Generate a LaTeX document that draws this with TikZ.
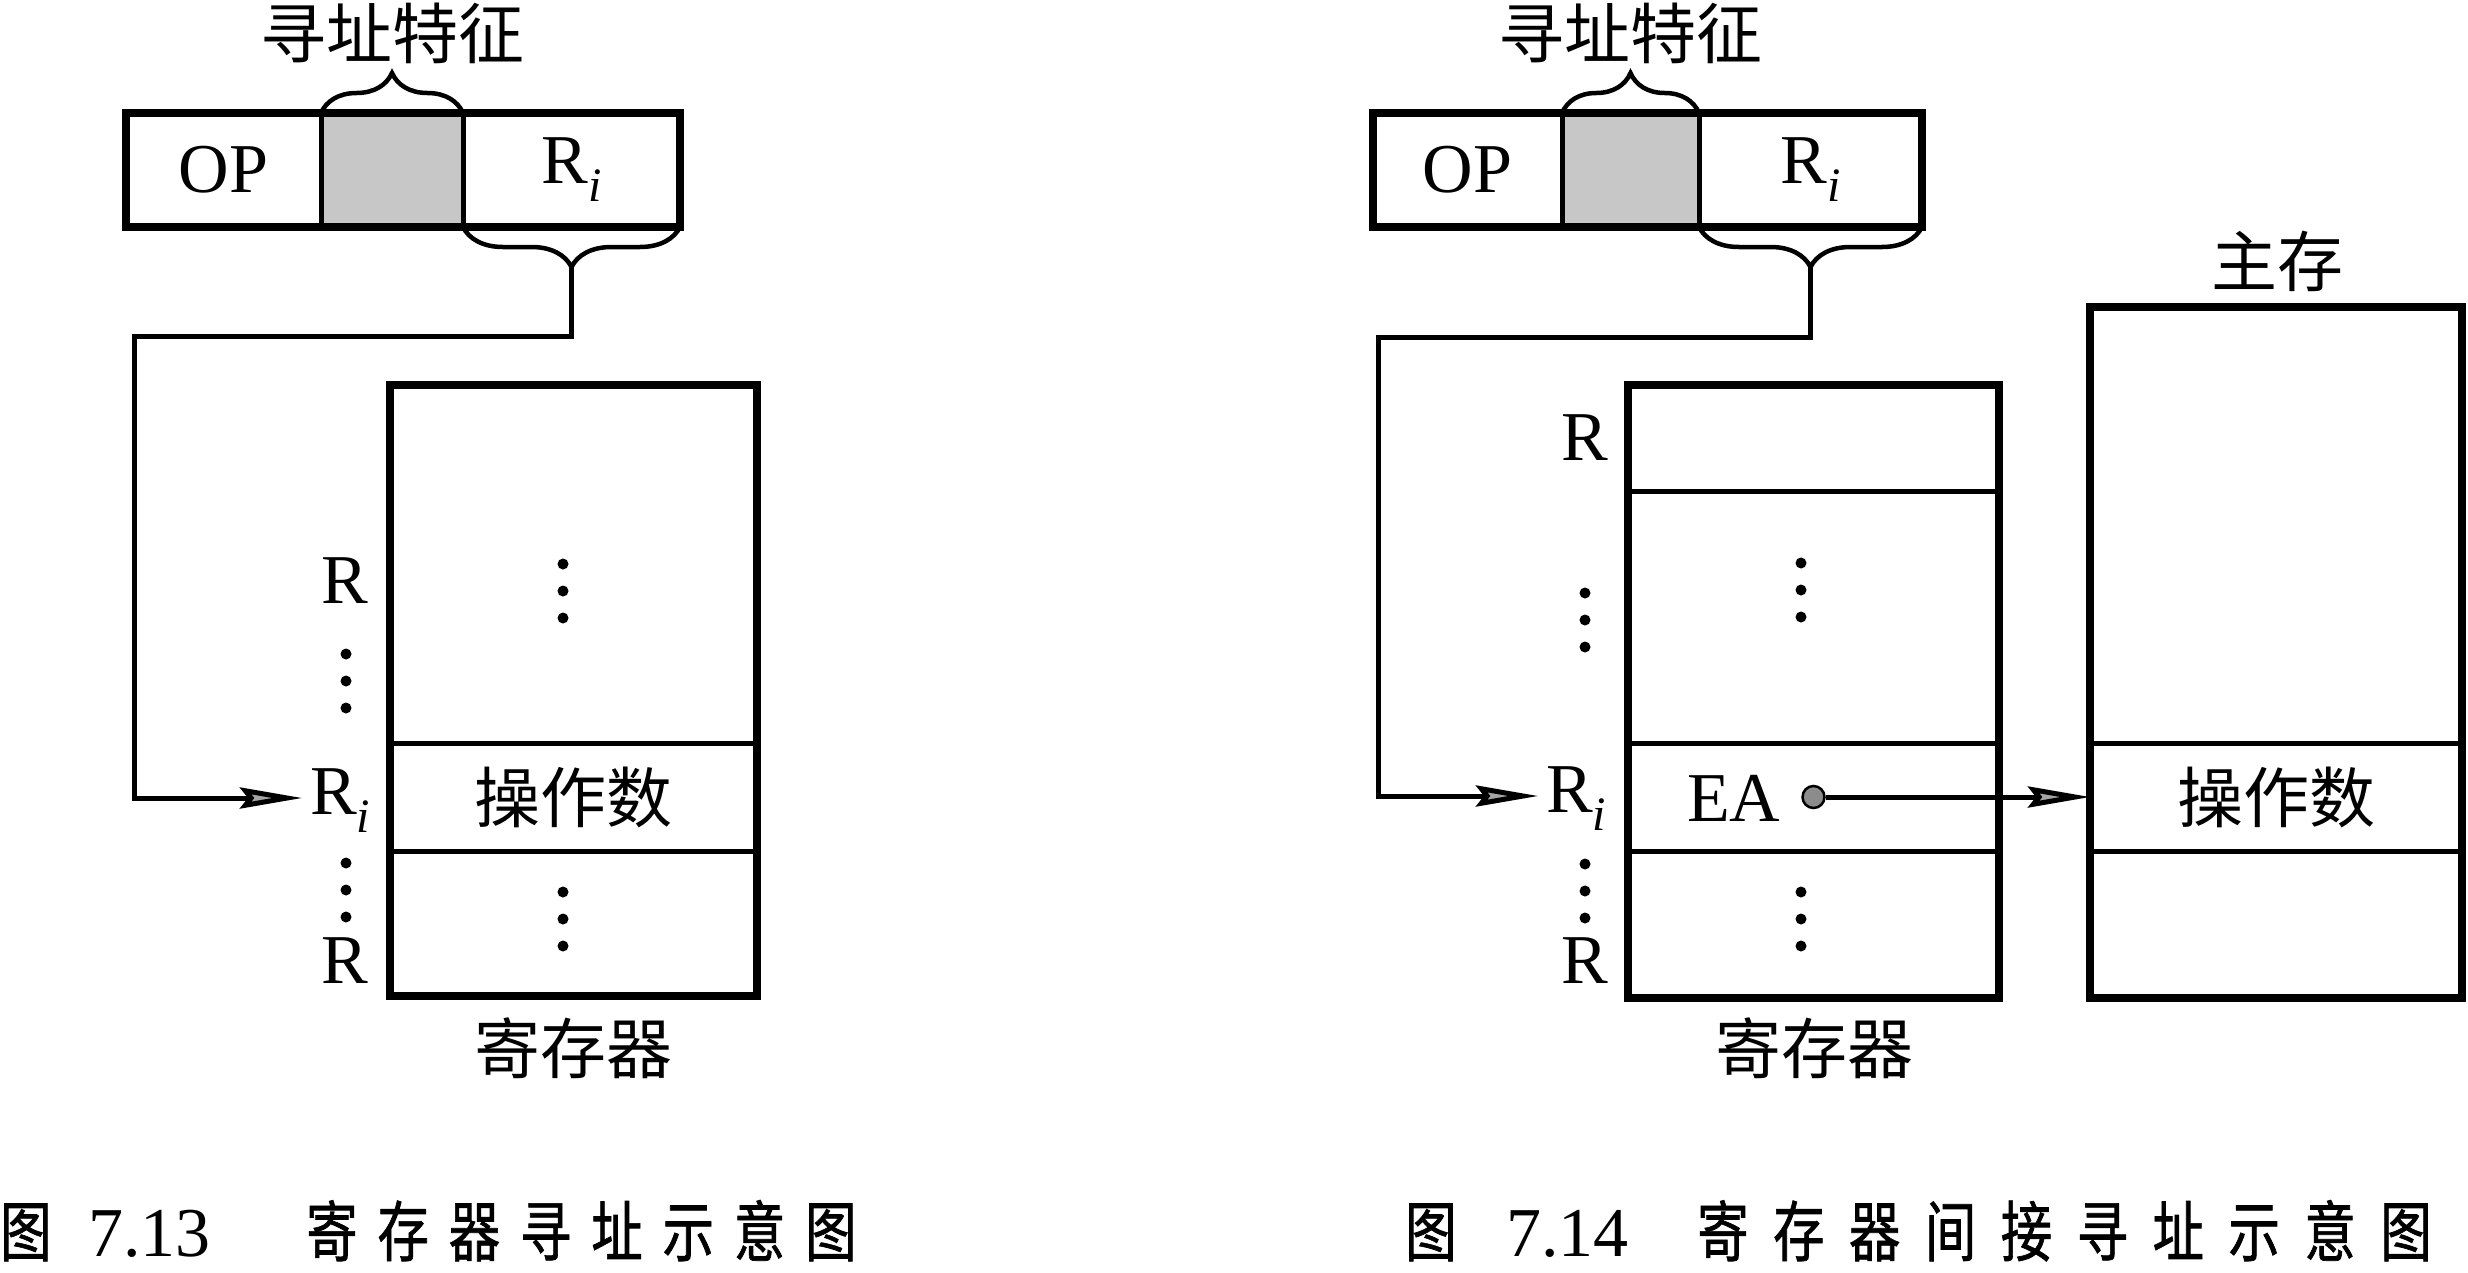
\documentclass[tikz,border=0pt]{standalone}
\usepackage{fontspec}
\setmainfont{Liberation Serif}
\newfontfamily\cjk{Noto Sans CJK SC}
\newfontfamily\capfont[FakeStretch=0.78,FakeBold=1,LetterSpace=30]{Noto Sans CJK SC}
\usetikzlibrary{arrows.meta,decorations.pathreplacing,calc}

% register name with italic subscript i
\newcommand\Rsub{R\raisebox{-18pt}{\fontsize{48}{48}\selectfont\itshape i}}
% a column of three dots
\newcommand\dotcol[2]{\foreach \dy in {0,27,54} \fill (#1,#2+\dy) circle (5.5pt);}
% figure number in a caption: fixed-width boxes for the word and the number
\newcommand\capnum[4]{\makebox[#1][l]{图}\makebox[#2][l]{\rmfamily\fontsize{70}{80}\selectfont #3}#4}

\begin{document}
\begin{tikzpicture}[x=1pt,y=-1pt,
  cell/.style={draw, line width=5pt, inner sep=0pt, outer sep=0pt, anchor=north west},
  outline/.style={line width=8pt},
  lat/.style={font=\fontsize{70}{80}\selectfont, inner sep=0pt},
  han/.style={font=\cjk\fontsize{66}{76}\selectfont, inner sep=0pt},
  captext/.style={font=\capfont\fontsize{66}{76}\selectfont, inner sep=0pt, anchor=base west},
  conn/.style={line width=5pt},
  arrowtip/.style={-{Stealth[length=62pt,width=21pt,inset=8pt,fill=black!35]}},
  bracestyle/.style={decorate, decoration={brace, amplitude=40pt}, line width=4.5pt},
  lbl/.style={font=\fontsize{70}{80}\selectfont, anchor=base west, text height=32pt,
              text depth=0pt, inner xsep=8pt, inner ysep=0pt},
]
\useasboundingbox (0,0) rectangle (2468,1272);

% ---------------- register addressing ----------------
\node[cell, lat, minimum width=195pt, minimum height=114pt] (opL) at (126,113) {OP};
\node[cell, fill=black!22, minimum width=142pt, minimum height=114pt] (adL) at (321,113) {};
\node[cell, lat, minimum width=217pt, minimum height=114pt] (riL) at (463,113) {\Rsub};
\draw[outline] (opL.north west) rectangle (riL.south east);

\draw[bracestyle] (adL.north west) -- (adL.north east);
\node[han] (featL) at ($(adL.north)+(0,-80)$) {寻址特征};
\draw[bracestyle] (riL.south east) -- (riL.south west);
\coordinate (tipL) at ($(riL.south)+(0,40)$);
\coordinate (bendL) at (134,336);

\node[cell, minimum width=367pt, minimum height=358pt] (rTopL) at (390,385) {};
\node[cell, han, minimum width=367pt, minimum height=108pt] (rOpL) at (390,743) {操作数};
\node[cell, minimum width=367pt, minimum height=145pt] (rBotL) at (390,851) {};
\draw[outline] (rTopL.north west) rectangle (rBotL.south east);
\dotcol{563}{564}
\dotcol{563}{892}

\node[lbl] (RaL) at (313,603) {R};
\node[lbl] (RiL) at (302,814) {\Rsub};
\node[lbl] (RbL) at (313,983) {R};
\dotcol{346}{654}
\dotcol{346}{863}
\node[han] (regL) at (573,1048) {寄存器};

\draw[conn, arrowtip] (tipL) |- (bendL) |- (RiL.west);

\node[captext] (capL) at (0,1256) {\capnum{88pt}{218pt}{7.13}{寄存器寻址示意图}};

% ---------------- register indirect addressing ----------------
\node[cell, lat, minimum width=189pt, minimum height=114pt] (opR) at (1373,113) {OP};
\node[cell, fill=black!22, minimum width=137pt, minimum height=114pt] (adR) at (1562,113) {};
\node[cell, lat, minimum width=223pt, minimum height=114pt] (riR) at (1699,113) {\Rsub};
\draw[outline] (opR.north west) rectangle (riR.south east);

\draw[bracestyle] (adR.north west) -- (adR.north east);
\node[han] (featR) at ($(adR.north)+(0,-80)$) {寻址特征};
\draw[bracestyle] (riR.south east) -- (riR.south west);
\coordinate (tipR) at ($(riR.south)+(0,40)$);
\coordinate (bendR) at (1378,337);

\node[cell, minimum width=371pt, minimum height=106pt] (r1R) at (1628,385) {};
\node[cell, minimum width=371pt, minimum height=252pt] (r2R) at (1628,491) {};
\node[cell, minimum width=371pt, minimum height=108pt] (rEA) at (1628,743) {};
\node[cell, minimum width=371pt, minimum height=147pt] (r4R) at (1628,851) {};
\draw[outline] (r1R.north west) rectangle (r4R.south east);
\dotcol{1801}{563}
\dotcol{1801}{892}

\node[lbl] (RaR) at (1553,460) {R};
\node[lbl] (RiR) at (1538,812) {\Rsub};
\node[lbl] (RbR) at (1553,983) {R};
\dotcol{1585}{593}
\dotcol{1585}{864}
\node[han] (regR) at (1814,1048) {寄存器};

\node[lat, anchor=base west] (ea) at (1687,821) {EA};
\node[circle, draw, fill=black!45, minimum size=22pt, inner sep=0pt, line width=2.5pt] (eadot) at (rEA.center) {};

\node[cell, minimum width=372pt, minimum height=436pt] (m1) at (2090,307) {};
\node[cell, han, minimum width=372pt, minimum height=108pt] (mOp) at (2090,743) {操作数};
\node[cell, minimum width=372pt, minimum height=147pt] (m3) at (2090,851) {};
\draw[outline] (m1.north west) rectangle (m3.south east);
\node[han] (mem) at (2277,261) {主存};

\draw[conn, arrowtip] (tipR) |- (bendR) |- (RiR.west);
\draw[conn, arrowtip] (eadot.east) -- (mOp.west);

\node[captext] (capR) at (1405,1256) {\capnum{101pt}{191pt}{7.14}{\addfontfeature{LetterSpace=37}寄存器间接寻址示意图}};
\end{tikzpicture}
\end{document}
